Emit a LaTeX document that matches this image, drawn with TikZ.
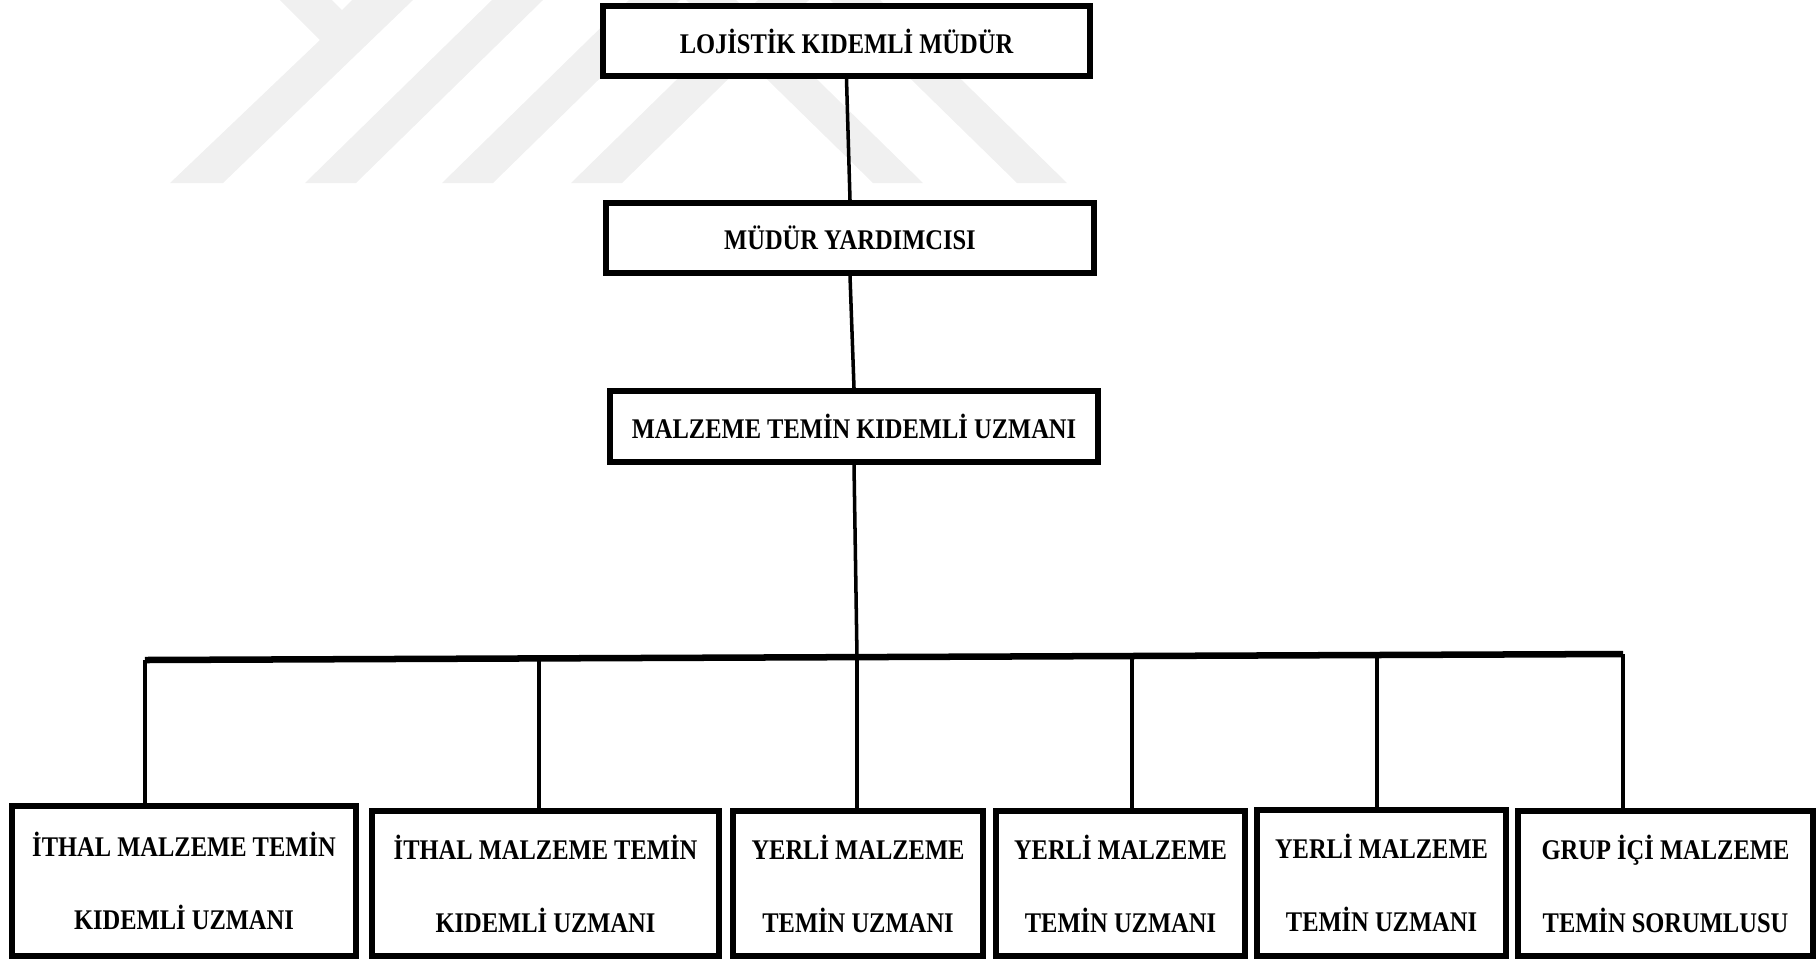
\documentclass[tikz,border=0pt]{standalone}
\usepackage{fontspec}
\setmainfont{Liberation Serif}[FakeStretch=0.86]
\usepackage{tikz}

\begin{document}
\begin{tikzpicture}[x=0.01cm, y=-0.01cm,
    rolebox/.style={draw, line width=1.7pt, fill=white, inner sep=0pt,
      minimum width=4.87cm, minimum height=0.70cm, align=center,
      font=\fontsize{8.1pt}{20.8pt}\selectfont\bfseries},
    link/.style={line width=1pt},
    busline/.style={line width=1.85pt},
    drop/.style={line width=1.15pt},
    faint/.style={fill=black!6}]
  \useasboundingbox (0,0) rectangle (1818,960);

  % Faint watermark behind the chart
  \fill[faint] (280,0) -- (332,0) -- (342,10) -- (352,0) -- (413,0) -- (223,183) -- (170,183) -- (320,40) -- cycle;
  \fill[faint] (492,0) -- (543,0) -- (356,183) -- (305,183) -- cycle;
  \fill[faint] (629,0) -- (680,0) -- (493,183) -- (442,183) -- cycle;
  \fill[faint] (758,0) -- (809,0) -- (622,183) -- (571,183) -- cycle;
  \fill[faint] (686,0) -- (736,0) -- (923,183) -- (873,183) -- cycle;
  \fill[faint] (830,0) -- (880,0) -- (1067,183) -- (1017,183) -- cycle;

  % Upper levels
  \node[rolebox] (lojistik) at (846.5,41) {LOJİSTİK KIDEMLİ MÜDÜR};
  \node[rolebox] (yardimci) at (850,238) {MÜDÜR YARDIMCISI};
  \node[rolebox, minimum height=0.71cm] (malzeme) at (854,426.5) {MALZEME TEMİN KIDEMLİ UZMANI};

  \draw[link] (lojistik.south) -- (yardimci.north);
  \draw[link] (yardimci.south) -- (malzeme.north);

  % Specialists
  \node[rolebox, minimum width=3.44cm, minimum height=1.50cm] (ithal1) at (184,881) {İTHAL MALZEME TEMİN\\KIDEMLİ UZMANI};
  \node[rolebox, minimum width=3.47cm, minimum height=1.45cm] (ithal2) at (545.5,883.5) {İTHAL MALZEME TEMİN\\KIDEMLİ UZMANI};
  \node[rolebox, minimum width=2.50cm, minimum height=1.45cm] (yerli1) at (858,883.5) {YERLİ MALZEME\\TEMİN UZMANI};
  \node[rolebox, minimum width=2.49cm, minimum height=1.45cm] (yerli2) at (1120.5,883.5) {YERLİ MALZEME\\TEMİN UZMANI};
  \node[rolebox, minimum width=2.49cm, minimum height=1.46cm] (yerli3) at (1381.5,883) {YERLİ MALZEME\\TEMİN UZMANI};
  \node[rolebox, minimum width=2.95cm, minimum height=1.45cm] (grup) at (1665.5,883.5) {GRUP İÇİ MALZEME\\TEMİN SORUMLUSU};

  % Bus and drops
  \coordinate (d1) at (145,660);
  \coordinate (d2) at (539,658.4);
  \coordinate (d3) at (857,657.1);
  \coordinate (d4) at (1132,656);
  \coordinate (d5) at (1377,655);
  \coordinate (d6) at (1623,654);

  \draw[link] (malzeme.south) -- (d3);
  \draw[busline] (d1) -- (d6);
  \draw[drop] (d1) -- (d1 |- ithal1.north);
  \draw[drop] (d2) -- (d2 |- ithal2.north);
  \draw[drop] (d3) -- (d3 |- yerli1.north);
  \draw[drop] (d4) -- (d4 |- yerli2.north);
  \draw[drop] (d5) -- (d5 |- yerli3.north);
  \draw[drop] (d6) -- (d6 |- grup.north);
\end{tikzpicture}
\end{document}
